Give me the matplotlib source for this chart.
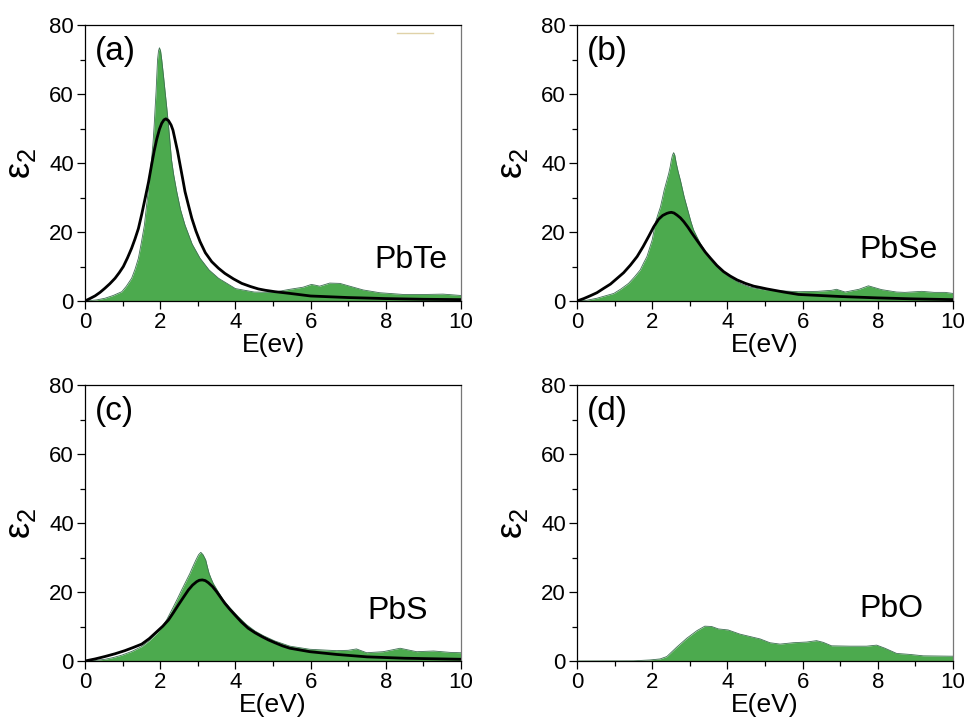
import matplotlib
matplotlib.use("Agg")
import matplotlib.pyplot as plt
from matplotlib.ticker import MultipleLocator

plt.rcParams['font.family'] = ['Liberation Sans', 'DejaVu Sans']
plt.rcParams['mathtext.fontset'] = 'custom'
plt.rcParams['mathtext.rm'] = 'Liberation Sans'
plt.rcParams['mathtext.it'] = 'Liberation Sans:italic'

# panel (a) PbTe
a_fill_x = [0, 0.3, 0.53, 0.75, 0.98, 1.1, 1.24, 1.33, 1.42, 1.50, 1.58, 1.63, 1.68, 1.72,
            1.77, 1.81, 1.84, 1.865, 1.89, 1.91, 1.93, 1.955, 1.98, 2.01, 2.04, 2.085,
            2.13, 2.175, 2.22, 2.26, 2.30, 2.36, 2.44, 2.54, 2.66, 2.85, 3.06, 3.3, 3.55,
            4.0, 4.5, 5.0, 5.45, 5.80, 6.02, 6.12, 6.24, 6.51, 6.78, 7.04, 7.40, 7.84,
            8.46, 9.08, 9.52, 10.0]
a_fill_y = [0, 0.3, 0.8, 1.6, 2.7, 4.3, 6.6, 9.2, 12.4, 17, 22, 27, 31.7, 36.5,
            41, 46, 51, 56, 60.7, 65.5, 70, 72.5, 73.4, 72.5, 70, 65.5,
            60.7, 56, 51, 46, 41, 36.5, 31.7, 26.5, 22, 16.5, 12.4, 9, 6.6,
            3.6, 2.6, 2.5, 3.4, 4.0, 4.8, 4.6, 4.3, 5.2, 5.1, 4.3, 3.2, 2.4,
            1.9, 1.9, 2.0, 1.6]
a_line_x = [0, 0.13, 0.27, 0.4, 0.53, 0.66, 0.80, 0.91, 1.02, 1.13, 1.24, 1.33, 1.42,
            1.51, 1.60, 1.69, 1.77, 1.84, 1.91, 1.98, 2.04, 2.10, 2.15, 2.22, 2.29,
            2.34, 2.39, 2.46, 2.53, 2.60, 2.66, 2.75, 2.84, 2.95, 3.06, 3.2, 3.37,
            3.55, 3.72, 3.95, 4.17, 4.4, 4.61, 4.8, 5.05, 5.45, 6.0, 7.0, 8.0, 9.0, 10.0]
a_line_y = [0, 0.7, 1.5, 2.5, 3.7, 5.0, 6.6, 8.2, 10, 12.5, 15.3, 18, 21,
            25.2, 29.8, 34.5, 39.4, 43.5, 47, 49.8, 51.5, 52.5, 52.8, 52.3, 51,
            49.5, 47, 43.5, 39.4, 35.3, 31.7, 27.8, 24, 20.3, 17.2, 14, 11.4,
            9.5, 8, 6.4, 5.1, 4.2, 3.5, 3.1, 2.7, 2.2, 1.45, 1.0, 0.7, 0.5, 0.4]

# panel (b) PbSe
b_fill_x = [0, 0.25, 0.53, 0.98, 1.17, 1.37, 1.53, 1.68, 1.77, 1.86, 1.93, 2.0, 2.04,
            2.08, 2.15, 2.22, 2.27, 2.32, 2.38, 2.44, 2.48, 2.51, 2.54, 2.57, 2.60,
            2.64, 2.69, 2.75, 2.80, 2.85, 2.91, 2.97, 3.03, 3.10, 3.19, 3.28, 3.39,
            3.50, 3.65, 3.81, 4.05, 4.34, 4.6, 4.96, 5.5, 5.89, 6.4, 6.77, 6.9, 7.13,
            7.5, 7.75, 8.1, 8.5, 8.72, 9.17, 9.5, 9.79, 10.0]
b_fill_y = [0, 0.2, 0.8, 2.2, 3.5, 5.1, 7, 9, 11, 12.9, 15.3, 17.7, 20,
            22.5, 25, 27.3, 29.7, 32.2, 34.6, 37, 39, 40.9, 42.3, 43, 42.3,
            39.9, 37.5, 35, 32.6, 30.2, 27.8, 25.4, 23, 20.6, 18.6, 16.7, 14.8,
            12.9, 10.8, 9, 7, 5.1, 4, 3.3, 2.9, 2.7, 2.8, 3.1, 3.4, 2.6,
            3.4, 4.4, 3.3, 2.6, 2.5, 2.8, 2.5, 2.5, 2.2]
b_line_x = [0, 0.18, 0.35, 0.53, 0.7, 0.89, 1.06, 1.24, 1.42, 1.60, 1.76, 1.91, 2.04,
            2.17, 2.28, 2.39, 2.45, 2.51, 2.58, 2.66, 2.75, 2.84, 2.95, 3.06, 3.17,
            3.28, 3.41, 3.55, 3.72, 3.90, 4.08, 4.26, 4.48, 4.70, 4.88, 5.05, 5.5,
            5.89, 7.0, 8.0, 9.0, 10.0]
b_line_y = [0, 0.7, 1.5, 2.4, 3.6, 4.9, 6.5, 8.2, 10.4, 12.9, 15.8, 18.8, 21.5,
            23.7, 24.8, 25.4, 25.6, 25.7, 25.5, 24.9, 24.1, 23, 21.4, 19.6, 17.9,
            16.2, 14.2, 12.4, 10.3, 8.5, 7.2, 6.1, 5.1, 4.3, 3.9, 3.5, 2.6,
            1.9, 1.3, 0.9, 0.6, 0.4]

# panel (c) PbS
c_fill_x = [0, 0.27, 0.53, 0.75, 0.98, 1.25, 1.51, 1.71, 1.91, 2.04, 2.17, 2.26, 2.35,
            2.46, 2.57, 2.68, 2.79, 2.87, 2.95, 3.02, 3.08, 3.14, 3.21, 3.25, 3.30,
            3.35, 3.41, 3.53, 3.68, 3.85, 4.08, 4.3, 4.52, 4.75, 5.05, 5.45, 5.98,
            6.69, 7.0, 7.22, 7.49, 7.93, 8.38, 8.82, 9.27, 9.71, 10.0]
c_fill_y = [0, 0.15, 0.5, 1.0, 1.7, 2.8, 4.2, 5.9, 8, 9.8, 11.9, 13.8, 15.7,
            18.1, 20.6, 23, 25.4, 27.4, 29.3, 30.8, 31.5, 30.8, 29.3, 27.5, 25.4,
            24, 22.5, 20.3, 17.7, 15.5, 12.8, 10.5, 8.7, 7.3, 5.8, 4.3, 3.4,
            3.0, 3.1, 3.5, 2.4, 2.7, 3.7, 2.7, 2.9, 2.5, 2.4]
c_line_x = [0, 0.27, 0.53, 0.8, 1.06, 1.28, 1.51, 1.71, 1.91, 2.07, 2.22, 2.35, 2.48,
            2.62, 2.75, 2.86, 2.97, 3.04, 3.12, 3.2, 3.28, 3.39, 3.50, 3.61, 3.72,
            3.85, 3.99, 4.16, 4.34, 4.52, 4.70, 4.88, 5.05, 5.25, 5.45, 5.98, 6.69,
            7.5, 8.5, 9.5, 10.0]
c_line_y = [0, 0.6, 1.3, 2.1, 3.0, 3.9, 4.9, 6.5, 8.5, 10.1, 11.9, 14, 16.2,
            18.5, 20.6, 22, 23, 23.4, 23.5, 23.3, 22.7, 21.6, 20.1, 18.4, 16.7,
            15, 13.3, 11.3, 9.5, 8.2, 7.1, 6.1, 5.3, 4.4, 3.7, 2.7, 1.9,
            1.2, 0.8, 0.6, 0.5]

# panel (d) PbO, no fit curve
d_fill_x = [0, 1.5, 1.94, 2.21, 2.39, 2.65, 2.92, 3.19, 3.40, 3.58, 3.76, 4.02, 4.33,
            4.60, 4.87, 5.13, 5.40, 5.75, 6.11, 6.37, 6.55, 6.77, 7.26, 7.70, 7.97,
            8.19, 8.50, 8.86, 9.21, 9.92, 10.0]
d_fill_y = [0, 0.05, 0.3, 0.6, 1.3, 4.0, 6.6, 8.8, 10.1, 10.0, 9.3, 9.0, 7.8,
            7.1, 6.4, 5.3, 4.9, 5.3, 5.5, 5.9, 5.4, 4.4, 4.3, 4.3, 4.6,
            3.7, 2.2, 1.9, 1.5, 1.4, 1.4]

tags = ['(a)', '(b)', '(c)', '(d)']
names = ['PbTe', 'PbSe', 'PbS', 'PbO']
xlabels = ['E(ev)', 'E(eV)', 'E(eV)', 'E(eV)']
name_pos = [(0.965, 0.12), (0.96, 0.156), (0.912, 0.152), (0.92, 0.159)]
fills = [(a_fill_x, a_fill_y), (b_fill_x, b_fill_y), (c_fill_x, c_fill_y), (d_fill_x, d_fill_y)]
lines = [(a_line_x, a_line_y), (b_line_x, b_line_y), (c_line_x, c_line_y), None]

green = '#4caa4e'

fig = plt.figure(figsize=(9.67, 7.19), dpi=100)
W, H = 967, 719
boxes = [(85, 25), (577, 25), (85, 385), (577, 385)]

for i in range(4):
    left, top = boxes[i]
    ax = fig.add_axes([left / W, 1 - (top + 276) / H, 376 / W, 276 / H])
    fx, fy = fills[i]
    ax.fill_between(fx, 0, fy, color=green, lw=0, zorder=2)
    ax.plot(fx, fy, color='#3f6f52', lw=0.6, zorder=3)
    ax.axhline(0, color='#b0804a', lw=0.8, zorder=3)
    if lines[i] is not None:
        lx, ly = lines[i]
        ax.plot(lx, ly, color='black', lw=2.0, zorder=4, solid_joinstyle='round')
    if i == 0:
        # stray legend stub in the original
        ax.plot([8.3, 9.26], [77.7, 77.7], color='#e0d2a8', lw=1.0)

    ax.set_xlim(0, 10)
    ax.set_ylim(0, 80)
    ax.xaxis.set_major_locator(MultipleLocator(2))
    ax.xaxis.set_minor_locator(MultipleLocator(1))
    ax.yaxis.set_major_locator(MultipleLocator(20))
    ax.yaxis.set_minor_locator(MultipleLocator(10))
    ax.tick_params(which='major', direction='out', length=6, width=0.9,
                   labelsize=16, pad=2)
    ax.tick_params(which='minor', direction='out', length=3.5, width=0.9)
    for s in ax.spines.values():
        s.set_linewidth(0.9)
    ax.spines['right'].set_color('#777777')

    ax.set_xlabel(xlabels[i], fontsize=19, labelpad=0)
    ax.set_ylabel('$\\mathregular{ε_2}$', fontsize=26)
    ax.yaxis.set_label_coords(-0.125, 0.5)

    ax.text(0.027, 0.96, tags[i], transform=ax.transAxes, fontsize=24,
            ha='left', va='top')
    ax.text(name_pos[i][0], name_pos[i][1], names[i], transform=ax.transAxes,
            fontsize=23, ha='right', va='baseline')

fig.savefig('out.png', dpi=100)
